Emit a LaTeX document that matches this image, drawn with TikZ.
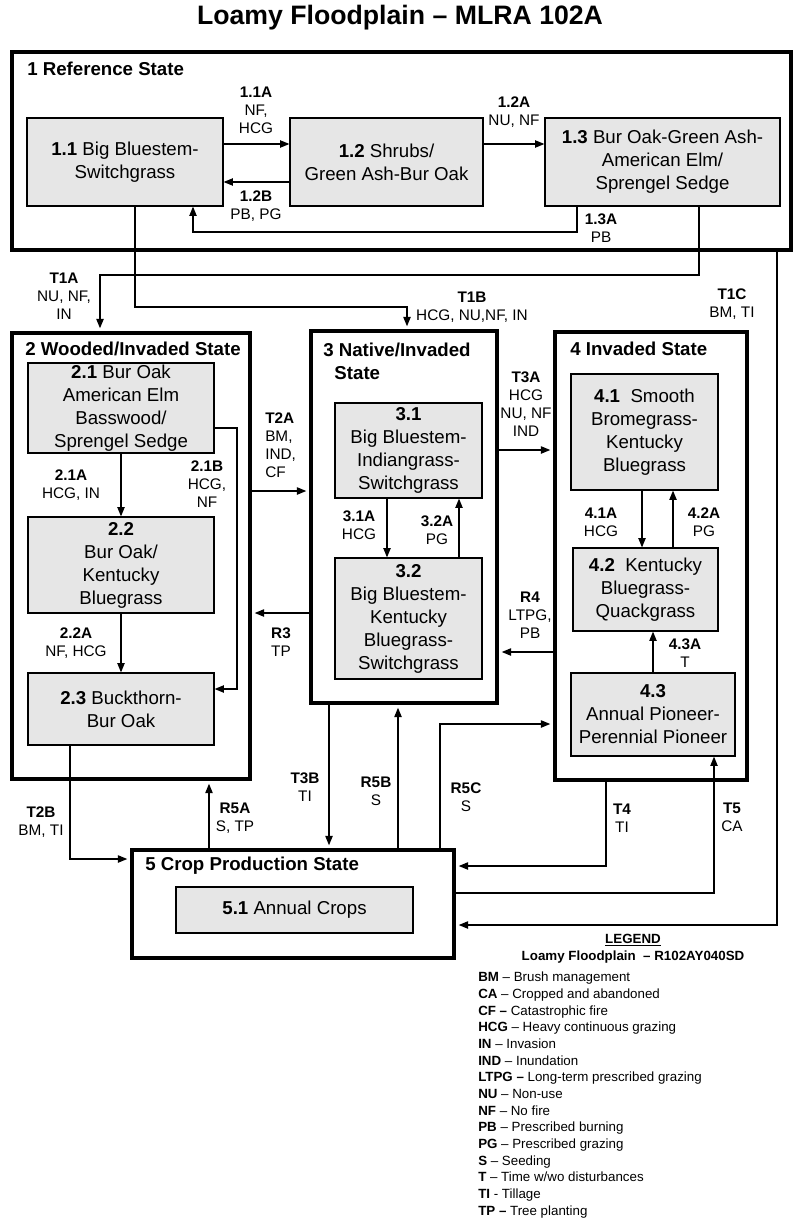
\documentclass[tikz,border=0pt]{standalone}
\usepackage{fontspec}
\setmainfont{Liberation Sans}
\usetikzlibrary{arrows.meta,fit}

\definecolor{phasegray}{RGB}{230,230,230}

\tikzset{
  phase/.style={draw, line width=0.9pt, fill=phasegray, inner sep=0pt, align=center,
    font=\fontsize{14}{17.25}\selectfont},
  size/.style 2 args={minimum width=#1*0.75pt, minimum height=#2*0.75pt},
  statebox/.style={draw, line width=3.5pt, inner sep=0pt},
  statetitle/.style={font=\bfseries\fontsize{14}{17.25}\selectfont, anchor=west,
    align=left, inner sep=0pt},
  lab/.style={font=\fontsize{11.5}{13.5}\selectfont, align=center, inner sep=0pt},
  arr/.style={line width=0.9pt, -{Triangle[length=7pt,width=5.5pt]}},
  arrs/.style={arr, shorten >=1.8pt},
}

\begin{document}
\begin{tikzpicture}[x=0.75pt, y=-0.75pt]

  % Page of the reference size (pixels)
  \fill[white] (0,0) rectangle (800,1231);
  \useasboundingbox (0,0) rectangle (800,1231);

  % Title
  \node[font=\bfseries\fontsize{20}{24}\selectfont] (title) at (400,18)
    {Loamy Floodplain – MLRA 102A};

  % State boxes
  \node[statebox, fit={(12,52) (791,250)}] (s1) {};
  \node[statebox, fit={(12,333) (250,779)}] (s2) {};
  \node[statebox, fit={(311,331) (497,703)}] (s3) {};
  \node[statebox, fit={(555,332) (747,780)}] (s4) {};
  \node[statebox, fit={(132,850) (454,958)}] (s5) {};

  % State titles
  \node[statetitle] (s1t) at (27,69) {1 Reference State};
  \node[statetitle] (s2t) at (25,349) {2 Wooded/Invaded State};
  \node[statetitle] (s3t) at (323,361) {3 Native/Invaded\\\hspace*{0.6em}State};
  \node[statetitle] (s4t) at (570,349) {4 Invaded State};
  \node[statetitle] (s5t) at (145,866) {5 Crop Production State};

  % Community phases
  \node[phase, size={196}{88}] (p11) at (125,162) {\textbf{1.1} Big Bluestem-\\Switchgrass};
  \node[phase, size={193}{88}] (p12) at (386.5,162) {\textbf{1.2} Shrubs/\\Green Ash-Bur Oak};
  \node[phase, size={235}{88}] (p13) at (662.5,162)
    {\textbf{1.3} Bur Oak-Green Ash-\\American Elm/\\Sprengel Sedge};
  \node[phase, size={186}{90}] (p21) at (121,408)
    {\textbf{2.1} Bur Oak\\American Elm\\Basswood/\\Sprengel Sedge};
  \node[phase, size={186}{96}] (p22) at (121,565) {\textbf{2.2}\\Bur Oak/\\Kentucky\\Bluegrass};
  \node[phase, size={186}{72}] (p23) at (121,709) {\textbf{2.3} Buckthorn-\\Bur Oak};
  \node[phase, size={147}{95}] (p31) at (408.5,450.5)
    {\textbf{3.1}\\Big Bluestem-\\Indiangrass-\\Switchgrass};
  \node[phase, size={147}{121}] (p32) at (408.5,618.5)
    {\textbf{3.2}\\Big Bluestem-\\Kentucky\\Bluegrass-\\Switchgrass};
  \node[phase, size={147}{116}] (p41) at (644.5,432)
    {\textbf{4.1}~ Smooth\\Bromegrass-\\Kentucky\\Bluegrass};
  \node[phase, size={145}{83}] (p42) at (645.5,589.5)
    {\textbf{4.2}~ Kentucky\\Bluegrass-\\Quackgrass};
  \node[phase, size={164}{83}] (p43) at (653,714.5)
    {\textbf{4.3}\\Annual Pioneer-\\Perennial Pioneer};
  \node[phase, size={237}{46}] (p51) at (294.5,910) {\textbf{5.1} Annual Crops};

  % Pathways inside state 1
  \draw[arr] (p11.east |- 0,144) -- (p12.west |- 0,144);
  \draw[arr] (p12.west |- 0,182) -- (p11.east |- 0,182);
  \draw[arr] (p12.east |- 0,144) -- (p13.west |- 0,144);
  \draw[arr] (p13.south -| 577,0) |- (193,232) -- (p11.south -| 193,0);

  % Transitions out of state 1
  \draw[arrs] (p13.south -| 699,0) |- (100,275) -- (s2.north -| 100,0);
  \draw[arrs] (p11.south -| 135,0) |- (407,307) -- (s3.north -| 407,0);
  \draw[arrs] (s1.south -| 777,0) |- (s5.east |- 0,925);

  % Pathways inside state 2
  \draw[arr] (p21.south -| 121,0) -- (p22.north -| 121,0);
  \draw[arr] (p21.east |- 0,428) -| (237,689) -- (p23.east |- 0,689);
  \draw[arr] (p22.south -| 121,0) -- (p23.north -| 121,0);

  % Pathways inside state 3
  \draw[arr] (p31.south -| 387,0) -- (p32.north -| 387,0);
  \draw[arr] (p32.north -| 459,0) -- (p31.south -| 459,0);

  % Pathways inside state 4
  \draw[arr] (p41.south -| 642,0) -- (p42.north -| 642,0);
  \draw[arr] (p42.north -| 673,0) -- (p41.south -| 673,0);
  \draw[arr] (p43.north -| 653,0) -- (p42.south -| 653,0);

  % Transitions and restorations between states
  \draw[arrs] (s2.east |- 0,491) -- (s3.west |- 0,491);
  \draw[arrs] (s3.west |- 0,613) -- (s2.east |- 0,613);
  \draw[arrs] (s3.east |- 0,450) -- (s4.west |- 0,450);
  \draw[arrs] (s4.west |- 0,652) -- (s3.east |- 0,652);

  % Transitions to and from state 5
  \draw[arrs] (p23.south -| 70,0) |- (s5.west |- 0,859);
  \draw[arrs] (s5.north -| 209,0) -- (s2.south -| 209,0);
  \draw[arrs] (s3.south -| 329,0) -- (s5.north -| 329,0);
  \draw[arrs] (s5.north -| 398,0) -- (s3.south -| 398,0);
  \draw[arrs] (s5.north -| 440,0) |- (s4.west |- 0,724);
  \draw[arrs] (s4.south -| 606,0) |- (s5.east |- 0,866);
  \draw[arr] (s5.east |- 0,893) -| (p43.south -| 714,0);

  % Pathway labels
  \node[lab] (l11a) at (256,110) {\textbf{1.1A}\\NF,\\HCG};
  \node[lab] (l12b) at (256,206) {\textbf{1.2B}\\PB, PG};
  \node[lab] (l12a) at (514,112) {\textbf{1.2A}\\NU, NF};
  \node[lab] (l13a) at (601,228) {\textbf{1.3A}\\PB};
  \node[lab] (l21a) at (71,485) {\textbf{2.1A}\\HCG, IN};
  \node[lab] (l21b) at (207,484) {\textbf{2.1B}\\HCG,\\NF};
  \node[lab] (l22a) at (76,643) {\textbf{2.2A}\\NF, HCG};
  \node[lab] (l31a) at (359,525) {\textbf{3.1A}\\HCG};
  \node[lab] (l32a) at (437,530) {\textbf{3.2A}\\PG};
  \node[lab] (l41a) at (601,522) {\textbf{4.1A}\\HCG};
  \node[lab] (l42a) at (704,522) {\textbf{4.2A}\\PG};
  \node[lab] (l43a) at (685,653) {\textbf{4.3A}\\T};

  % Transition labels
  \node[lab] (lt1a) at (64,296) {\textbf{T1A}\\NU, NF,\\IN};
  \node[lab] (lt1b) at (472,307) {\textbf{T1B}\\HCG, NU,NF, IN};
  \node[lab] (lt1c) at (732,304) {\textbf{T1C}\\BM, TI};
  \node[lab, align=left, anchor=west] (lt2a) at (265,445) {\textbf{T2A}\\BM,\\IND,\\CF};
  \node[lab] (lr3) at (281,642) {\textbf{R3}\\TP};
  \node[lab] (lt3a) at (526,404) {\textbf{T3A}\\HCG\\NU, NF\\IND};
  \node[lab] (lr4) at (530,615) {\textbf{R4}\\LTPG,\\PB};
  \node[lab] (lt2b) at (41,822) {\textbf{T2B}\\BM, TI};
  \node[lab] (lr5a) at (235,818) {\textbf{R5A}\\S, TP};
  \node[lab] (lt3b) at (305,787) {\textbf{T3B}\\TI};
  \node[lab] (lr5b) at (376,791) {\textbf{R5B}\\S};
  \node[lab] (lr5c) at (466,797) {\textbf{R5C}\\S};
  \node[lab] (lt4) at (622,818) {\textbf{T4}\\TI};
  \node[lab] (lt5) at (732,817) {\textbf{T5}\\CA};

  % Legend
  \node[font=\bfseries\fontsize{10}{12}\selectfont] (legt) at (633,940) {\underline{LEGEND}};
  \node[font=\bfseries\fontsize{10}{12}\selectfont] (legs) at (633,957)
    {Loamy Floodplain \ – R102AY040SD};
  \node[font=\fontsize{10}{12.5}\selectfont, align=left, anchor=north west, inner sep=0pt]
    (leg) at (478,972) {%
    \textbf{BM} – Brush management\\
    \textbf{CA} – Cropped and abandoned\\
    \textbf{CF –} Catastrophic fire\\
    \textbf{HCG} – Heavy continuous grazing\\
    \textbf{IN} – Invasion\\
    \textbf{IND} – Inundation\\
    \textbf{LTPG –} Long-term prescribed grazing\\
    \textbf{NU} – Non-use\\
    \textbf{NF} – No fire\\
    \textbf{PB} – Prescribed burning\\
    \textbf{PG} – Prescribed grazing\\
    \textbf{S} – Seeding\\
    \textbf{T} – Time w/wo disturbances\\
    \textbf{TI} - Tillage\\
    \textbf{TP –} Tree planting};

\end{tikzpicture}
\end{document}
